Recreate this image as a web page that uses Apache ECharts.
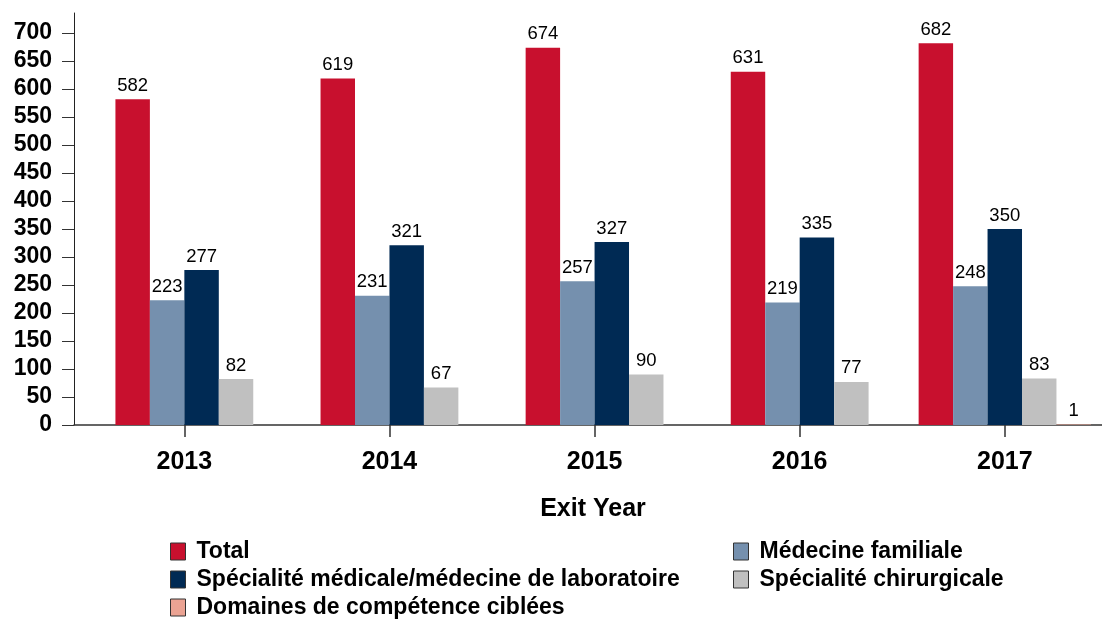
<!DOCTYPE html>
<html>
<head>
<meta charset="utf-8">
<title>Exit Year</title>
<script src="https://cdn.jsdelivr.net/npm/echarts@6/dist/echarts.min.js"></script>
<style>
  html, body { margin: 0; padding: 0; background: #fff; }
  #chart { width: 1102px; height: 621px; }
</style>
</head>
<body>
<div id="chart"></div>
<script>
// Exit years on the horizontal axis
const years = ['2013', '2014', '2015', '2016', '2017'];

// Counts per exit year
const totalValues = [582, 619, 674, 631, 682];
const familyMedicineValues = [223, 231, 257, 219, 248];
const medicalSpecialtyValues = [277, 321, 327, 335, 350];
const surgicalSpecialtyValues = [82, 67, 90, 77, 83];
const focusedCompetenceValues = [null, null, null, null, 1];

// Vertical axis tick labels
const yTickValues = [0, 50, 100, 150, 200, 250, 300, 350, 400, 450, 500, 550, 600, 650, 700];

const seriesDefs = [
  { name: 'Total', values: totalValues, color: '#c8102e' },
  { name: 'Médecine familiale', values: familyMedicineValues, color: '#7590ae' },
  { name: 'Spécialité médicale/médecine de laboratoire', values: medicalSpecialtyValues, color: '#002a54' },
  { name: 'Spécialité chirurgicale', values: surgicalSpecialtyValues, color: '#c0c0c0' },
  { name: 'Domaines de compétence ciblées', values: focusedCompetenceValues, color: '#eba393' }
];

const FONT = '"Liberation Sans", Arial, Helvetica, sans-serif';
const BAR_RATIO = 0.168; // bar width as a share of one year slot

// Bars in a year are packed side by side, centred on the year tick;
// only the series that have a value for that year take a slot.
function makeRenderItem(def) {
  return function (params, api) {
    const i = api.value(0);
    const v = api.value(1);
    const present = seriesDefs.filter(s => s.values[i] != null);
    const n = present.length;
    const k = present.indexOf(def);
    const unit = api.size([1, 0])[0];
    const bw = unit * BAR_RATIO;
    const base = api.coord([i, 0]);
    const top = api.coord([i, v]);
    const x0 = base[0] - n * bw / 2 + k * bw;
    return {
      type: 'group',
      children: [
        {
          type: 'rect',
          shape: { x: x0, y: top[1], width: bw, height: base[1] - top[1] },
          style: { fill: api.visual('color') }
        },
        {
          type: 'text',
          style: {
            text: String(v),
            x: x0 + bw / 2,
            y: top[1] - 4,
            align: 'center',
            verticalAlign: 'bottom',
            font: '18.5px ' + FONT,
            fill: '#000'
          }
        }
      ]
    };
  };
}

const series = seriesDefs.map(def => ({
  name: def.name,
  type: 'custom',
  renderItem: makeRenderItem(def),
  itemStyle: { color: def.color },
  encode: { x: 0, y: 1 },
  data: def.values.map((v, i) => (v == null ? null : [i, v])).filter(d => d !== null)
}));

const legendCommon = {
  orient: 'vertical',
  padding: 0,
  itemWidth: 15,
  itemHeight: 17,
  itemGap: 5,
  icon: 'rect',
  selectedMode: false,
  itemStyle: { borderColor: '#333', borderWidth: 1 },
  textStyle: {
    fontFamily: FONT,
    fontWeight: 'bold',
    fontSize: 23,
    lineHeight: 23,
    color: '#000',
    padding: [0, 0, 0, 6]
  }
};

const chart = echarts.init(document.getElementById('chart'), null, { renderer: 'canvas' });

chart.setOption({
  animation: false,
  backgroundColor: '#fff',
  grid: { left: 74, right: 0, top: 13, bottom: 196 },
  xAxis: {
    type: 'value',
    min: -0.538,
    max: 4.474,
    name: 'Exit Year',
    nameLocation: 'middle',
    nameGap: 72,
    nameTextStyle: {
      fontFamily: FONT, fontWeight: 'bold', fontSize: 25, color: '#000',
      padding: [0, 0, 0, 10]
    },
    splitLine: { show: false },
    axisLine: { show: true, onZero: false, lineStyle: { color: '#333', width: 1.5 } },
    axisTick: {
      show: true, length: 12, inside: false,
      customValues: years.map((_, i) => i),
      lineStyle: { color: '#333', width: 1.5 }
    },
    axisLabel: {
      customValues: years.map((_, i) => i),
      formatter: v => years[Math.round(v)],
      margin: 25,
      fontFamily: FONT, fontWeight: 'bold', fontSize: 25, color: '#000'
    }
  },
  yAxis: {
    type: 'value',
    min: 0,
    max: 736,
    splitLine: { show: false },
    axisLine: { show: true, onZero: false, lineStyle: { color: '#222', width: 1 } },
    axisTick: {
      show: true, length: 12, inside: false,
      customValues: yTickValues,
      lineStyle: { color: '#333', width: 1 }
    },
    axisLabel: {
      customValues: yTickValues,
      margin: 22,
      fontFamily: FONT, fontWeight: 'bold', fontSize: 23, color: '#000'
    }
  },
  legend: [
    Object.assign({}, legendCommon, {
      left: 170,
      top: 540,
      data: ['Total', 'Spécialité médicale/médecine de laboratoire', 'Domaines de compétence ciblées']
    }),
    Object.assign({}, legendCommon, {
      left: 733,
      top: 540,
      data: ['Médecine familiale', 'Spécialité chirurgicale']
    })
  ],
  series: series
});
</script>
</body>
</html>
